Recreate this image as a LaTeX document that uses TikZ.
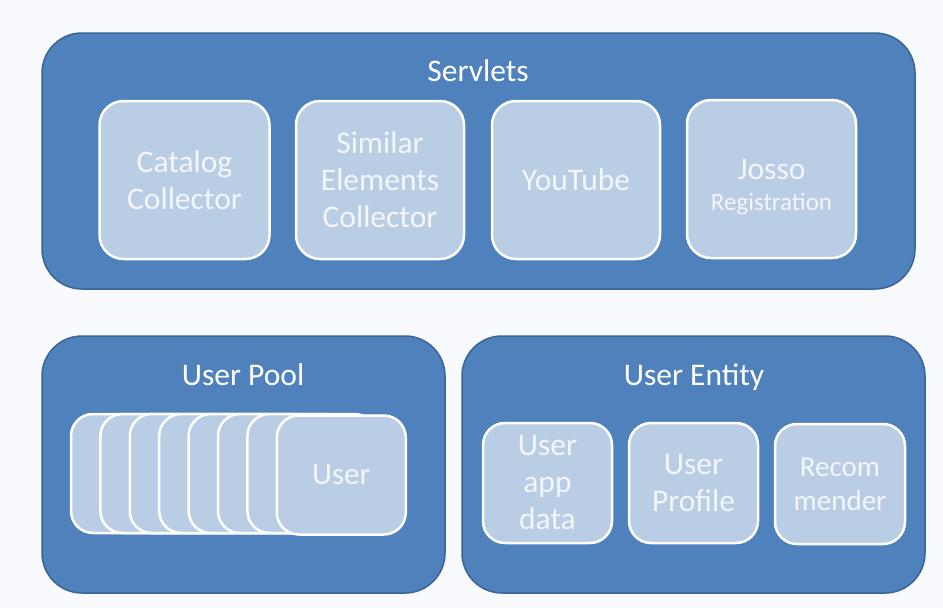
\documentclass[tikz,border=0pt]{standalone}
\usepackage{fontspec}
\setmainfont{Carlito}
\definecolor{pagebg}{HTML}{F8FAFD}
\definecolor{groupfill}{HTML}{4F81BD}
\definecolor{groupline}{HTML}{3A6496}
\definecolor{itemfill}{HTML}{B9CDE5}
\definecolor{itemtext}{HTML}{F3F6FB}
\begin{document}
\begin{tikzpicture}[x=1pt,y=-1pt,
  group/.style={draw=groupline, line width=1.5pt, fill=groupfill, rounded corners=40pt},
  item/.style={draw=white, line width=2.5pt, fill=itemfill, rounded corners=24pt,
    text=itemtext, align=center, inner sep=0pt,
    font=\fontsize{31.5}{37}\selectfont},
  title/.style={text=white, anchor=base, inner sep=0pt, font=\fontsize{31.5}{37}\selectfont}]
  \useasboundingbox[fill=pagebg] (0,0) rectangle (943,608);

  % group panels
  \draw[group] (42,33) rectangle (915,289);
  \draw[group] (42,336) rectangle (445,593);
  \draw[group] (462,336) rectangle (925,593);

  \node[title] (servlets) at (478,81) {Servlets};
  \node[title] (pool) at (243,385) {User Pool};
  \node[title] (entity) at (694,385) {User Entity};

  % servlets
  \node[item, minimum width=170pt, minimum height=158pt] (catalog) at (184.5,180) {Catalog\\Collector};
  \node[item, minimum width=168pt, minimum height=158pt] (similar) at (380,180) {Similar\\Elements\\Collector};
  \node[item, minimum width=168pt, minimum height=158pt] (youtube) at (576,180) {YouTube};
  \node[item, minimum width=169pt, minimum height=158pt] (josso) at (771.5,179)
    {\rule{0pt}{37pt}Josso\\[-6pt]{\fontsize{25}{30}\selectfont Registration}};

  % stacked user cards, back to front
  \foreach \i in {0,...,6} {
    \node[item, rounded corners=22pt, minimum width=129pt, minimum height=119pt]
      (card\i) at ({71+29.4*\i+64.5},473.5) {};
  }
  \node[item, rounded corners=22pt, minimum width=129pt, minimum height=119pt,
    font=\fontsize{31}{37}\selectfont] (user) at (341.3,475) {User};

  % user entity parts
  \node[item, rounded corners=22pt, minimum width=129pt, minimum height=120pt] (appdata) at (547.5,483) {User\\app\\data};
  \node[item, rounded corners=22pt, minimum width=129pt, minimum height=120pt] (profile) at (693.5,483) {User\\Profile};
  \node[item, rounded corners=22pt, minimum width=130pt, minimum height=120pt,
    font=\fontsize{29}{34}\selectfont] (recommender) at (840,484) {Recom\\mender};
\end{tikzpicture}
\end{document}
